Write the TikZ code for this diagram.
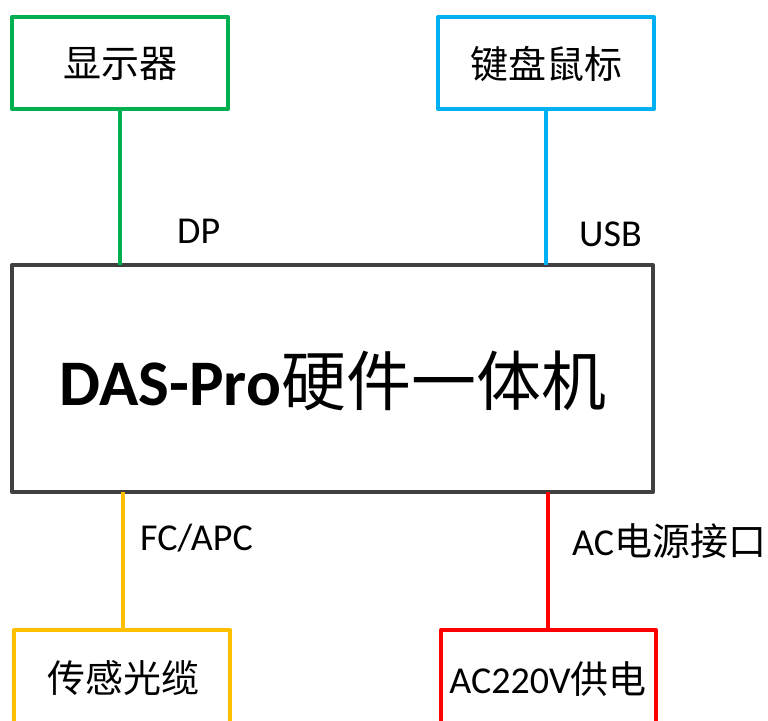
\documentclass[tikz,border=0pt]{standalone}
\usepackage{fontspec}
\newfontfamily\cjk{Noto Sans CJK SC}
\newfontfamily\lat{Carlito}
\definecolor{cgreen}{HTML}{00B050}
\definecolor{cblue}{HTML}{00B0F0}
\definecolor{cyellow}{HTML}{FFC000}
\definecolor{cred}{HTML}{FF0000}
\definecolor{cgray}{HTML}{404040}
\begin{document}
\begin{tikzpicture}[x=1pt,y=-1pt,
  boxline/.style={line width=4pt, line join=round},
  boxtext/.style={inner sep=0pt, font=\fontsize{38}{42}\selectfont\cjk},
  lbl/.style={inner sep=0pt, anchor=base west, font=\fontsize{38}{42}\selectfont\lat}]
\useasboundingbox (0,0) rectangle (768,720);
\clip (0,0) rectangle (768,720);
% boxes
\draw[boxline, cgreen] (12,17) rectangle (228,109);
\draw[boxline, cblue] (438,17) rectangle (654,109);
\draw[boxline, cgray] (12,265) rectangle (653,492);
\draw[boxline, cyellow] (14,630) rectangle (230,760);
\draw[boxline, cred] (441,630) rectangle (656,760);
% anchor coordinates
\coordinate (dtop) at (120,109);
\coordinate (dbot) at (120,265);
\coordinate (ktop) at (546,109);
\coordinate (kbot) at (546,265);
\coordinate (ftop) at (123,492);
\coordinate (fbot) at (123,630);
\coordinate (atop) at (548,492);
\coordinate (abot) at (548,630);
% connectors
\draw[line width=4pt, cgreen] (dtop) -- (dbot);
\draw[line width=4pt, cblue] (ktop) -- (kbot);
\draw[line width=4pt, cyellow] (ftop) -- (fbot);
\draw[line width=4pt, cred] (atop) -- (abot);
% texts
\node[boxtext] (disp) at (120,64) {显示器};
\node[boxtext] (kbd) at (546,64) {键盘鼠标};
\node[inner sep=0pt] (main) at (333,381) {\fontsize{65}{72}\selectfont{\lat\bfseries DAS-Pro}{\cjk 硬件一体机}};
\node[boxtext] (fiber) at (123,678) {传感光缆};
\node[inner sep=0pt] (power) at (548,679) {\fontsize{38}{42}\selectfont{\lat AC220V}{\cjk 供电}};
\node[lbl] (dp) at (177,243) {DP};
\node[lbl] (usb) at (579,246) {USB};
\node[lbl] (fc) at (140,550) {FC/APC};
\node[lbl] (ac) at (572,555) {AC{\cjk 电源接口}};
\end{tikzpicture}
\end{document}
